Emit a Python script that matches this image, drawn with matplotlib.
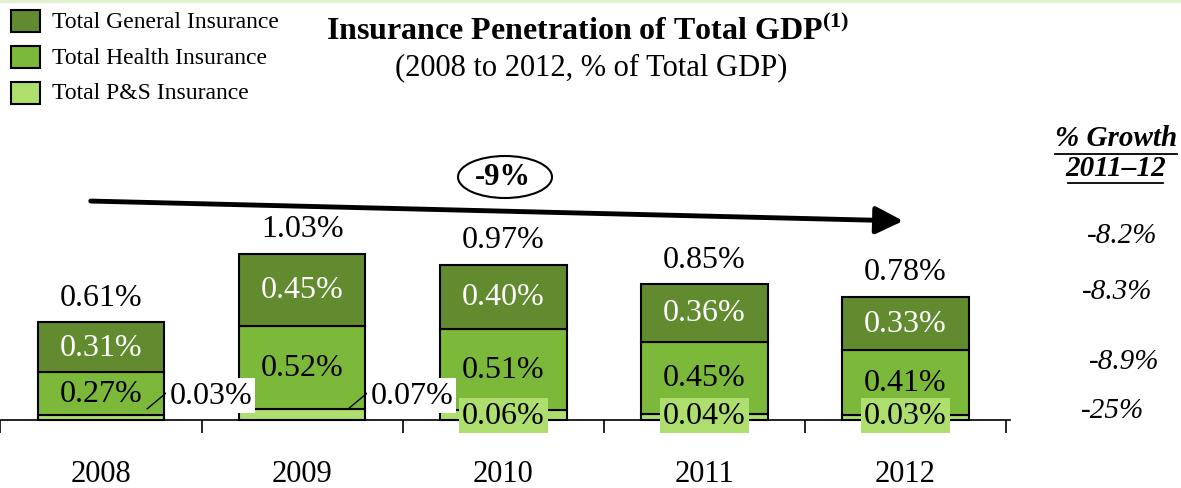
import matplotlib
matplotlib.use("Agg")
import matplotlib.pyplot as plt
from matplotlib.patches import Rectangle, Ellipse
import numpy as np

plt.rcParams['font.family'] = ['Liberation Serif', 'DejaVu Serif']
plt.rcParams['mathtext.fontset'] = 'custom'
plt.rcParams['mathtext.rm'] = 'Liberation Serif'
plt.rcParams['mathtext.bf'] = 'Liberation Serif:bold'

# data
years = ['2008', '2009', '2010', '2011', '2012']
ps = [0.03, 0.07, 0.06, 0.04, 0.03]
health = [0.27, 0.52, 0.51, 0.45, 0.41]
general = [0.31, 0.45, 0.40, 0.36, 0.33]
totals = [0.61, 1.03, 0.97, 0.85, 0.78]
growth_labels = ['-8.2%', '-8.3%', '-8.9%', '-25%']
cagr_label = '-9%'

c_gen = '#628a2f'
c_hlt = '#7cb83a'
c_ps = '#aedf6e'

W, H = 1181, 489
fig = plt.figure(figsize=(W / 100, H / 100), dpi=100)

def fx(x):
    return x / W

def fy(y):
    return 1 - y / H

# axes: baseline at y=421px, 160 px per 1%
ax = fig.add_axes([0, fy(421), 1010 / W, 352 / H])
ax.set_xlim(-0.502, 4.52)
ax.set_ylim(0, 2.2)
for s in ['top', 'right', 'left']:
    ax.spines[s].set_visible(False)
ax.spines['bottom'].set_linewidth(1.2)
ax.set_yticks([])
ax.set_xticks(np.arange(-0.5, 5, 1.0))
ax.set_xticklabels([])
ax.tick_params(axis='x', direction='out', length=9, width=1.2)

x = np.arange(len(years))
bw = 0.63
ps_a = np.array(ps)
hl_a = np.array(health)
gn_a = np.array(general)
ax.bar(x, ps_a, bw, color=c_ps, edgecolor='black', linewidth=1.5, clip_on=False)
ax.bar(x, hl_a, bw, bottom=ps_a, color=c_hlt, edgecolor='black', linewidth=1.5, clip_on=False)
ax.bar(x, gn_a, bw, bottom=ps_a + hl_a, color=c_gen, edgecolor='black', linewidth=1.5, clip_on=False)

fs = 23
for i in range(len(years)):
    ax.text(i, ps[i] + health[i] / 2, f'{health[i]:.2f}%', ha='center', va='center',
            fontsize=fs, color='black')
    ax.text(i, ps[i] + health[i] + general[i] / 2, f'{general[i]:.2f}%', ha='center',
            va='center', fontsize=fs, color='white')
    top = ps[i] + health[i] + general[i]
    ax.text(i, top + 0.155, f'{totals[i]:.2f}%', ha='center', va='center', fontsize=fs)
    ax.text(i, -0.335, years[i], ha='center', va='center', fontsize=22)
    if i < 2:
        ax.plot([i + 0.23, i + 0.33], [0.07, 0.175], color='black', lw=1, clip_on=False)
        ax.text(i + 0.34, 0.155, f'{ps[i]:.2f}%', ha='left', va='center', fontsize=fs,
                bbox=dict(boxstyle='square,pad=0.1', fc='white', ec='none'))
    else:
        ax.text(i, 0.03, f'{ps[i]:.2f}%', ha='center', va='center', fontsize=fs,
                bbox=dict(boxstyle='square,pad=0.1', fc=c_ps, ec='none'))

# faint top rule
fig.add_artist(plt.Line2D([0, 1], [fy(2), fy(2)], color='#e4f1cf', lw=3))

# legend
leg = [('Total General Insurance', c_gen), ('Total Health Insurance', c_hlt),
       ('Total P&S Insurance', c_ps)]
for k, (lab, col) in enumerate(leg):
    yc = 22 + 36 * k
    fig.add_artist(Rectangle((fx(11), fy(yc + 11)), 29 / W, 22 / H, fc=col, ec='black',
                             lw=1.5, transform=fig.transFigure))
    fig.text(fx(52), fy(yc), lab, ha='left', va='center', fontsize=17)

# title
fig.text(fx(588), fy(31), 'Insurance Penetration of Total GDP$^{\\mathbf{(1)}}$', ha='center',
         va='center', fontsize=23, fontweight='bold')
fig.text(fx(591), fy(68), '(2008 to 2012, % of Total GDP)', ha='center', va='center',
         fontsize=22)

# CAGR arrow
fig.add_artist(matplotlib.patches.FancyArrowPatch(
    (fx(88), fy(202)), (fx(906), fy(222)), transform=fig.transFigure,
    arrowstyle='-|>,head_length=1.4,head_width=0.7', mutation_scale=12,
    color='black', lw=3.5))
fig.add_artist(Ellipse((fx(505), fy(178)), 94 / W, 42 / H, fc='white', ec='black', lw=1.5,
                       transform=fig.transFigure))
fig.text(fx(503), fy(178), cagr_label, ha='center', va='center', fontsize=22,
         fontweight='bold')

# growth column
for txt, yy in [('% Growth', 139), ('2011\u201312', 169)]:
    t = fig.text(fx(1116), fy(yy), txt, ha='center', va='center', fontsize=21,
                 fontweight='bold', style='italic')
fig.add_artist(plt.Line2D([fx(1055), fx(1177)], [fy(155), fy(155)], color='black', lw=1.3))
fig.add_artist(plt.Line2D([fx(1068), fx(1163)], [fy(184), fy(184)], color='black', lw=1.3))
gpos = [(1122, 236), (1117, 292), (1124, 362), (1113, 411)]
for lab, (px, py) in zip(growth_labels, gpos):
    fig.text(fx(px), fy(py), lab, ha='center', va='center', fontsize=21, style='italic')

fig.savefig('out.png', dpi=100)
